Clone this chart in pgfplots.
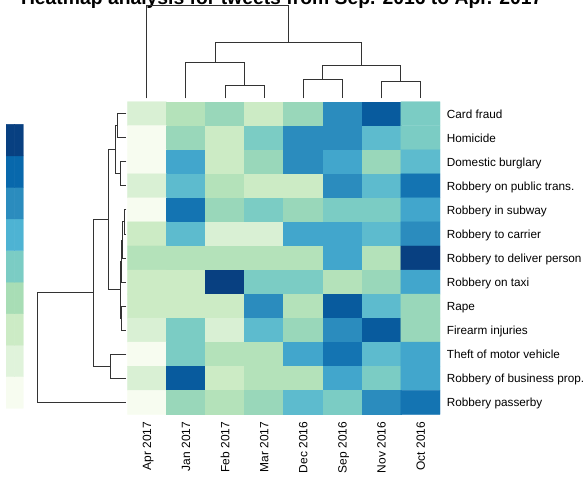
\documentclass[border=0pt]{standalone}
\usepackage{pgfplots}
\pgfplotsset{compat=1.18}
\usepackage{fontspec}
\setmainfont{Liberation Sans}

\pgfplotsset{
  dendro/.style={anchor=south west, scale only axis, hide axis, clip=false},
  link/.style={no marks, line width=0.9bp, color=black!80},
  gnbu/.style={colormap={gnbu}{rgb255=(247,252,240) rgb255=(224,243,219)
     rgb255=(204,235,197) rgb255=(168,221,181) rgb255=(123,204,196)
     rgb255=(78,179,211) rgb255=(43,140,190) rgb255=(8,104,172) rgb255=(8,64,129)},
     point meta min=0, point meta max=12},
}

% cell level 0..12 (row 0 = Card fraud, column 0 = Apr 2017)
\pgfplotstableread{
x y c
0 0 2
1 0 4
2 0 5
3 0 3
4 0 5
5 0 9
6 0 11
7 0 6
0 1 0
1 1 5
2 1 3
3 1 6
4 1 9
5 1 9
6 1 7
7 1 6
0 2 0
1 2 8
2 2 3
3 2 5
4 2 9
5 2 8
6 2 5
7 2 7
0 3 2
1 3 7
2 3 4
3 3 3
4 3 3
5 3 9
6 3 7
7 3 10
0 4 0
1 4 10
2 4 5
3 4 6
4 4 5
5 4 6
6 4 6
7 4 8
0 5 3
1 5 7
2 5 2
3 5 2
4 5 8
5 5 8
6 5 7
7 5 9
0 6 4
1 6 4
2 6 4
3 6 4
4 6 4
5 6 8
6 6 4
7 6 12
0 7 3
1 7 3
2 7 12
3 7 6
4 7 6
5 7 4
6 7 5
7 7 8
0 8 3
1 8 3
2 8 3
3 8 9
4 8 4
5 8 11
6 8 7
7 8 5
0 9 2
1 9 6
2 9 2
3 9 7
4 9 5
5 9 9
6 9 11
7 9 5
0 10 0
1 10 6
2 10 4
3 10 4
4 10 8
5 10 10
6 10 7
7 10 8
0 11 2
1 11 11
2 11 3
3 11 4
4 11 4
5 11 8
6 11 6
7 11 8
0 12 0
1 12 5
2 12 4
3 12 5
4 12 7
5 12 6
6 12 9
7 12 10
}\cells

\pgfplotstableread{
x y c
0 0 0
1 0 0
0 1 1.5
1 1 1.5
0 2 3
1 2 3
0 3 4.5
1 3 4.5
0 4 6
1 4 6
0 5 7.5
1 5 7.5
0 6 9
1 6 9
0 7 10.5
1 7 10.5
0 8 12
1 8 12
}\keycells

\begin{document}
\begin{tikzpicture}
\useasboundingbox (0,0) rectangle (587bp,478bp);

\node[anchor=base, inner sep=0pt, font=\bfseries\fontsize{19.4}{22}\selectfont]
  at (281.7bp,473bp) {Heatmap analysis for tweets from Sep. 2016 to Apr. 2017};

% heatmap
\begin{axis}[
  at={(127.3bp,63.7bp)}, anchor=south west,
  scale only axis, width=312.7bp, height=312.6bp,
  gnbu,
  xmin=-0.5, xmax=7.5, ymin=-0.5, ymax=12.5, y dir=reverse,
  axis line style={draw=none}, major tick length=0pt,
  xtick={0,...,7},
  xticklabels={Apr 2017,Jan 2017,Feb 2017,Mar 2017,Dec 2016,Sep 2016,Nov 2016,Oct 2016},
  ytick={0,...,12},
  yticklabels={Card fraud,Homicide,Domestic burglary,Robbery on public trans.,
    Robbery in subway,Robbery to carrier,Robbery to deliver person,Robbery on taxi,
    Rape,Firearm injuries,Theft of motor vehicle,Robbery of business prop.,Robbery passerby},
  yticklabel pos=right,
  xticklabel style={rotate=90, anchor=east, inner sep=0pt, text height=8.6bp,
    text depth=0pt, font=\fontsize{12}{14}\selectfont},
  yticklabel style={anchor=west, inner sep=0pt, text height=8.6bp,
    text depth=0pt, font=\fontsize{11.8}{14}\selectfont},
  xticklabel shift=7.4bp, yticklabel shift=6.7bp,
]
\addplot[matrix plot*, mesh/cols=8, point meta=explicit] table[meta=c] {\cells};
\end{axis}

% colour key
\begin{axis}[
  at={(6bp,69.7bp)}, anchor=south west, scale only axis, hide axis,
  width=17.3bp, height=284bp, gnbu,
  xmin=-0.5, xmax=1.5, ymin=-0.5, ymax=8.5,
]
\addplot[matrix plot*, mesh/cols=2, point meta=explicit] table[meta=c] {\keycells};
\end{axis}

% column dendrogram
\begin{axis}[dendro, at={(127.3bp,379.7bp)}, width=312.7bp, height=92.6bp,
  xmin=-0.5, xmax=7.5, ymin=0, ymax=92.6]
\addplot[link] coordinates {(2,0) (2,13) (3,13) (3,0)};
\addplot[link] coordinates {(1,0) (1,36.3) (2.5,36.3) (2.5,13)};
\addplot[link] coordinates {(4,0) (4,19) (5,19) (5,0)};
\addplot[link] coordinates {(6,0) (6,17) (7,17) (7,0)};
\addplot[link] coordinates {(4.5,19) (4.5,32.6) (6.5,32.6) (6.5,17)};
\addplot[link] coordinates {(1.75,36.3) (1.75,56) (5.5,56) (5.5,32.6)};
\addplot[link] coordinates {(0,0) (0,92.6) (3.625,92.6) (3.625,56)};
\end{axis}

% row dendrogram
\begin{axis}[dendro, at={(37.3bp,63.7bp)}, width=89.2bp, height=312.6bp,
  xmin=0, xmax=89.2, x dir=reverse, ymin=-0.5, ymax=12.5, y dir=reverse]
\addplot[link] coordinates {(0,0) (9.2,0) (9.2,1) (0,1)};
\addplot[link] coordinates {(0,2) (6.5,2) (6.5,3) (0,3)};
\addplot[link] coordinates {(9.2,0.5) (11.5,0.5) (11.5,2.5) (6.5,2.5)};
\addplot[link] coordinates {(0,4) (2.5,4) (2.5,5) (0,5)};
\addplot[link] coordinates {(2.5,4.5) (3.8,4.5) (3.8,6) (0,6)};
\addplot[link] coordinates {(3.8,5.25) (5.5,5.25) (5.5,7) (0,7)};
\addplot[link] coordinates {(0,8) (4.8,8) (4.8,9) (0,9)};
\addplot[link] coordinates {(5.5,6.125) (6.5,6.125) (6.5,8.5) (4.8,8.5)};
\addplot[link] coordinates {(11.5,1.5) (18.2,1.5) (18.2,7.3125) (6.5,7.3125)};
\addplot[link] coordinates {(0,10) (16.5,10) (16.5,11) (0,11)};
\addplot[link] coordinates {(18.2,4.406) (33.2,4.406) (33.2,10.5) (16.5,10.5)};
\addplot[link] coordinates {(33.2,7.453) (89.2,7.453) (89.2,12) (0,12)};
\end{axis}
\end{tikzpicture}
\end{document}
